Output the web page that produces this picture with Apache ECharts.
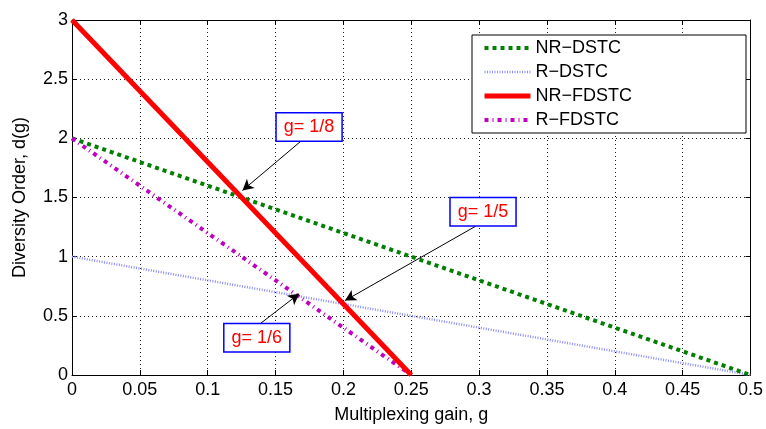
<!DOCTYPE html>
<html><head><meta charset="utf-8">
<script src="https://cdn.jsdelivr.net/npm/echarts@6/dist/echarts.min.js"></script>
<style>html,body{margin:0;padding:0;background:#fff}#c{width:766px;height:429px}</style>
</head><body><div id="c"></div>
<script>
// data
const seriesNames = ['NR\u2212DSTC', 'R\u2212DSTC', 'NR\u2212FDSTC', 'R\u2212FDSTC'];
const xDSTC = [0, 0.5];
const xFDSTC = [0, 0.25];
const nrDstc = [2, 0];
const rDstc = [1, 0];
const nrFdstc = [3, 0];
const rFdstc = [2, 0];
const annTexts = ['g= 1/8', 'g= 1/5', 'g= 1/6'];
const annBoxPos = [[0.1747, 2.096], [0.3029, 1.379], [0.1362, 0.314]];
const arrowFrom = [[0.1689, 1.978], [0.2974, 1.257], [0.1380, 0.4275]];
const arrowTo = [[0.1256, 1.559], [0.2012, 0.629], [0.1674, 0.687]];

const font = 'Liberation Sans, Arial, Helvetica, sans-serif';
const pair = (xs, ys) => xs.map((x, i) => [x, ys[i]]);
const fmt = v => String(Math.round(v * 1000) / 1000);

const chart = echarts.init(document.getElementById('c'), null, {renderer: 'canvas'});
const gridLine = {show: true, lineStyle: {color: '#222', type: [1, 3], width: 1}};
const axBase = {
  axisLine: {show: true, onZero: false, lineStyle: {color: '#000', width: 1}},
  axisTick: {show: true, inside: true, length: 5, lineStyle: {color: '#000'}},
};
chart.setOption({
  animation: false,
  backgroundColor: '#fff',
  grid: {left: 72, right: 13, top: 20, bottom: 51, containLabel: false},
  legend: {
    orient: 'vertical', left: 472, top: 35,
    itemWidth: 46, itemHeight: 14, itemGap: 6,
    padding: [4, 114, 4, 10],
    borderColor: '#000', borderWidth: 1, backgroundColor: '#fff',
    itemStyle: {opacity: 0},
    lineStyle: {width: 'inherit'},
    textStyle: {fontFamily: font, fontSize: 18, color: '#000', lineHeight: 18},
    data: seriesNames
  },
  xAxis: [
    Object.assign({type: 'value', min: 0, max: 0.5, interval: 0.05, position: 'bottom',
      name: 'Multiplexing gain, g', nameLocation: 'middle', nameGap: 31,
      nameTextStyle: {fontFamily: font, fontSize: 18, color: '#000'},
      axisLabel: {fontFamily: font, fontSize: 18, color: '#000', margin: 6, formatter: fmt},
      splitLine: gridLine}, axBase),
    Object.assign({type: 'value', min: 0, max: 0.5, interval: 0.05, position: 'top',
      axisLabel: {show: false}, splitLine: {show: false}}, axBase)
  ],
  yAxis: [
    Object.assign({type: 'value', min: 0, max: 3, interval: 0.5, position: 'left',
      name: 'Diversity Order, d(g)', nameLocation: 'middle', nameGap: 43,
      nameTextStyle: {fontFamily: font, fontSize: 18, color: '#000'},
      axisLabel: {fontFamily: font, fontSize: 18, color: '#000', margin: 4, formatter: fmt},
      splitLine: gridLine}, axBase),
    Object.assign({type: 'value', min: 0, max: 3, interval: 0.5, position: 'right',
      axisLabel: {show: false}, splitLine: {show: false}}, axBase)
  ],
  series: [
    {name: seriesNames[0], type: 'line', data: pair(xDSTC, nrDstc), symbol: 'none', z: 3,
      lineStyle: {color: '#007f00', width: 4, type: [4, 4], cap: 'butt'}, itemStyle: {color: '#007f00'}},
    {name: seriesNames[1], type: 'line', data: pair(xDSTC, rDstc), symbol: 'none', z: 2,
      lineStyle: {color: '#8c8cff', width: 2.5, type: [1, 1.5]}, itemStyle: {color: '#8c8cff'}},
    {name: seriesNames[2], type: 'line', data: pair(xFDSTC, nrFdstc), symbol: 'none', z: 4,
      lineStyle: {color: '#ff0000', width: 5}, itemStyle: {color: '#ff0000'}},
    {name: seriesNames[3], type: 'line', data: pair(xFDSTC, rFdstc), symbol: 'none', z: 3,
      lineStyle: {color: '#bf00bf', width: 4, type: [4, 4, 1, 4], cap: 'butt'}, itemStyle: {color: '#bf00bf'}},
    {name: 'annotations', type: 'line', data: [], symbol: 'none', z: 10,
      markLine: {
        silent: true, symbol: ['none', 'arrow'], symbolSize: [9, 11],
        lineStyle: {color: '#000', width: 1, type: 'solid'}, label: {show: false},
        data: arrowFrom.map((f, i) => [{coord: f}, {coord: arrowTo[i]}])
      },
      markPoint: {
        silent: true, symbol: 'rect', symbolSize: 0,
        label: {show: true, position: 'inside', fontFamily: font, fontSize: 18, color: '#ff0000',
          backgroundColor: '#fff', borderColor: '#0000ff', borderWidth: 1.5, padding: [5, 7, 4, 7]},
        data: annBoxPos.map((p, i) => ({coord: p, value: annTexts[i], label: {formatter: annTexts[i]}}))
      }
    }
  ]
});
</script></body></html>
